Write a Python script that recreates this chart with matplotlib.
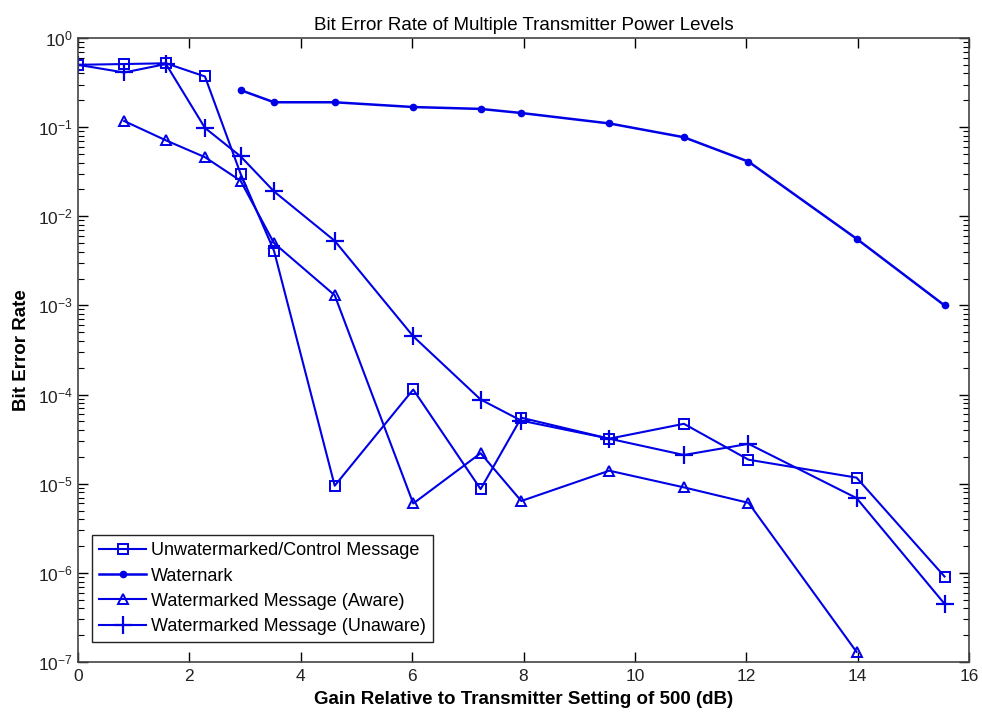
import matplotlib
matplotlib.use("Agg")
import matplotlib.pyplot as plt
from matplotlib.ticker import LogLocator, NullFormatter

plt.rcParams['font.family'] = ['Liberation Sans', 'DejaVu Sans']

# gain relative to a transmitter setting of 500, in dB
gain = [0.0, 0.83, 1.58, 2.28, 2.92, 3.52, 4.61, 6.02, 7.23, 7.96, 9.54, 10.88, 12.04, 13.98, 15.56]

ber_control = [0.5, 0.51, 0.52, 0.37, 0.030, 0.0041, 9.5e-6, 1.14e-4, 8.7e-6, 5.5e-5,
               3.2e-5, 4.7e-5, 1.86e-5, 1.17e-5, 9.1e-7]
ber_unaware = [0.5, 0.41, 0.51, 0.098, 0.047, 0.019, 0.0053, 4.5e-4, 8.8e-5, 5.1e-5,
               3.2e-5, 2.1e-5, 2.8e-5, 6.9e-6, 4.5e-7]

gain_mark = gain[4:]
ber_mark = [0.26, 0.19, 0.19, 0.168, 0.16, 0.144, 0.11, 0.077, 0.041, 0.0056, 1.0e-3]

gain_aware = gain[1:14]
ber_aware = [0.117, 0.071, 0.046, 0.025, 0.005, 1.3e-3, 6.0e-6, 2.2e-5, 6.4e-6,
             1.4e-5, 9.1e-6, 6.1e-6, 1.3e-7]

y_ticks = [1e-7, 1e-6, 1e-5, 1e-4, 1e-3, 1e-2, 1e-1, 1e0]

col = '#0000e6'

fig = plt.figure(figsize=(9.82, 7.15), dpi=100)
ax = fig.add_axes([0.0794, 0.0741, 0.9074, 0.8728])

ax.plot(gain, ber_control, '-s', color=col, lw=1.5, ms=7, mfc='none', mew=1.4,
        label='Unwatermarked/Control Message')
ax.plot(gain_mark, ber_mark, '-o', color=col, lw=1.8, ms=4.5,
        label='Waternark')
ax.plot(gain_aware, ber_aware, '-^', color=col, lw=1.5, ms=7, mfc='none', mew=1.4,
        label='Watermarked Message (Aware)')
ax.plot(gain, ber_unaware, '-+', color=col, lw=1.5, ms=13, mew=1.6,
        label='Watermarked Message (Unaware)')

ax.set_yscale('log')
ax.set_xlim(0, 16)
ax.set_ylim(1e-7, 1)
ax.set_xticks(range(0, 17, 2))
ax.set_yticks(y_ticks)
ax.yaxis.set_minor_locator(LogLocator(base=10, subs=range(2, 10), numticks=20))
ax.yaxis.set_minor_formatter(NullFormatter())

ax.tick_params(which='both', direction='in', top=True, right=True,
               labelsize=12.5, labelcolor='#222222')
ax.tick_params(which='major', length=7, width=1)
ax.tick_params(which='minor', length=4, width=0.8)
ax.tick_params(axis='x', pad=5)
for s in ax.spines.values():
    s.set_linewidth(1.2)
    s.set_color('#444444')

ax.set_title('Bit Error Rate of Multiple Transmitter Power Levels', fontsize=13.5, pad=6)
ax.set_xlabel('Gain Relative to Transmitter Setting of 500 (dB)', fontsize=13.5,
              fontweight='bold', labelpad=5)
ax.set_ylabel('Bit Error Rate', fontsize=13.5, fontweight='bold', labelpad=6)

leg = ax.legend(loc='lower left', bbox_to_anchor=(0.016, 0.032), borderaxespad=0,
                fontsize=13, handlelength=2.6, handletextpad=0.25, borderpad=0.4,
                labelspacing=0.45, fancybox=False, framealpha=1, edgecolor='#222222')
leg.get_frame().set_linewidth(1.0)

fig.savefig('out.png', dpi=100)
